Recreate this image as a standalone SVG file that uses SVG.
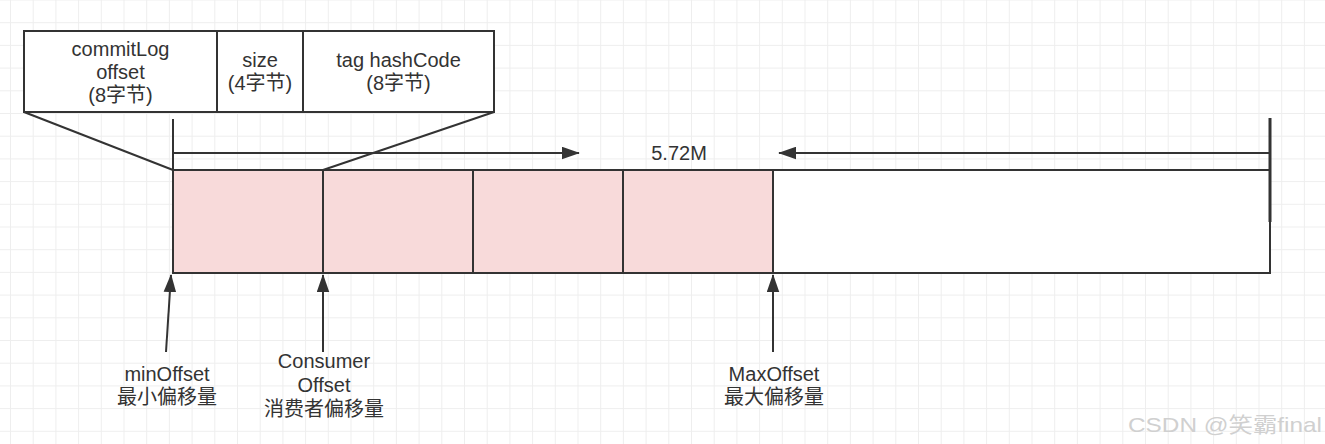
<svg xmlns="http://www.w3.org/2000/svg" width="1325" height="444" viewBox="0 0 1325 444">
  <style>
    .ln { stroke: #333; stroke-width: 2; fill: none; }
    .box { stroke: #333; stroke-width: 2; fill: #fff; }
    .pink { stroke: #333; stroke-width: 2; fill: #f8dada; }
    .t { font-family: "Liberation Sans", "Noto Sans CJK SC", sans-serif; font-size: 20px; fill: #333; text-anchor: middle; }
    .wm { font-family: "Liberation Sans", "Noto Sans CJK SC", sans-serif; font-size: 21px; fill: #d0d0d0; }
  </style>
  <defs>
    <pattern id="grid" width="22.7" height="22.7" patternUnits="userSpaceOnUse" x="10" y="-0.5">
      <path d="M0 0.5 H22.7 M0.5 0 V22.7" stroke="#eeeeee" stroke-width="1" fill="none"/>
    </pattern>
    <marker id="arr" viewBox="0 0 20 14" refX="19" refY="7" markerWidth="18" markerHeight="13" markerUnits="userSpaceOnUse" orient="auto">
      <path d="M0 0 L20 7 L0 14 Z" fill="#333"/>
    </marker>
  </defs>
  <rect width="1325" height="444" fill="#fff"/>
  <rect width="1325" height="444" fill="url(#grid)"/>

  <g id="header">
    <rect class="box" x="24" y="31" width="193" height="81"/>
    <rect class="box" x="217" y="31" width="86" height="81"/>
    <rect class="box" x="303" y="31" width="191" height="81"/>
    <text class="t" x="120.5" y="56">commitLog</text>
    <text class="t" x="120.5" y="79">offset</text>
    <text class="t" x="120.5" y="102">(8字节)</text>
    <text class="t" x="260" y="67">size</text>
    <text class="t" x="260" y="90">(4字节)</text>
    <text class="t" x="398.5" y="67">tag hashCode</text>
    <text class="t" x="398.5" y="90">(8字节)</text>
  </g>

  <g id="queue">
    <rect class="pink" x="173" y="170" width="150" height="103"/>
    <rect class="pink" x="323" y="170" width="150" height="103"/>
    <rect class="pink" x="473" y="170" width="150" height="103"/>
    <rect class="pink" x="623" y="170" width="150" height="103"/>
    <rect class="box" x="773" y="170" width="497" height="103"/>
  </g>

  <g id="size-label">
    <text class="t" x="679" y="160">5.72M</text>
  </g>

  <g id="labels">
    <text class="t" x="167" y="381">minOffset</text>
    <text class="t" x="167" y="404">最小偏移量</text>
    <text class="t" x="324" y="368">Consumer</text>
    <text class="t" x="324" y="392">Offset</text>
    <text class="t" x="324" y="416">消费者偏移量</text>
    <text class="t" x="774" y="381">MaxOffset</text>
    <text class="t" x="774" y="404">最大偏移量</text>
  </g>

  <g id="connectors">
    <line class="ln" x1="24" y1="112" x2="173" y2="170"/>
    <line class="ln" x1="494" y1="112" x2="323" y2="170"/>
    <line class="ln" x1="173" y1="119" x2="173" y2="170"/>
    <line class="ln" x1="173" y1="153" x2="579" y2="153" marker-end="url(#arr)"/>
    <line class="ln" x1="1270" y1="118" x2="1270" y2="222" style="stroke-width:3"/>
    <line class="ln" x1="1270" y1="153" x2="779" y2="153" marker-end="url(#arr)"/>
    <line class="ln" x1="166" y1="352" x2="171" y2="275" marker-end="url(#arr)"/>
    <line class="ln" x1="323" y1="352" x2="323" y2="275" marker-end="url(#arr)"/>
    <line class="ln" x1="773" y1="352" x2="773" y2="275" marker-end="url(#arr)"/>
  </g>

  <text class="wm" x="1128" y="432" textLength="194" lengthAdjust="spacingAndGlyphs">CSDN @笑霸final</text>
</svg>
